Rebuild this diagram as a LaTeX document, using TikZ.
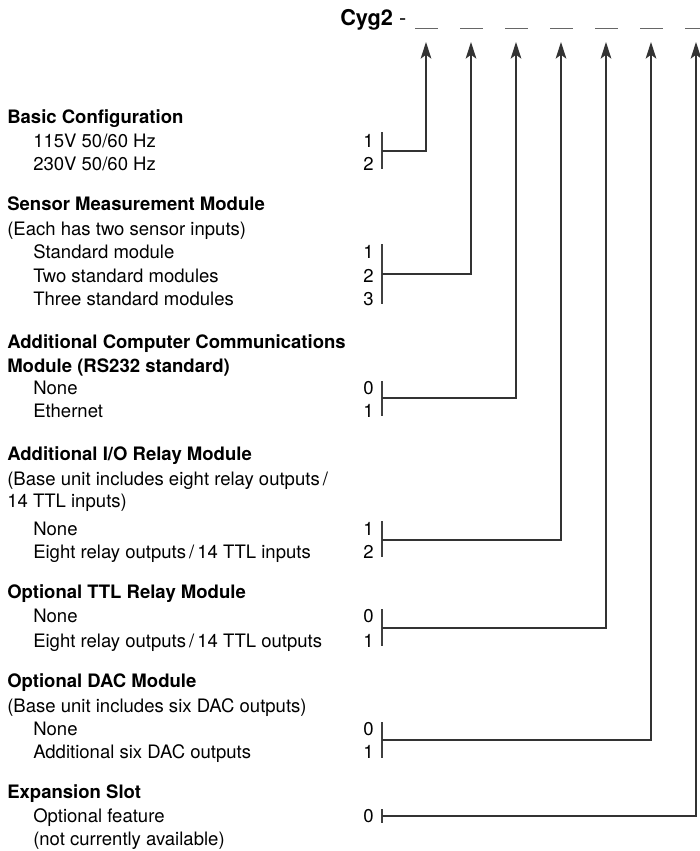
\documentclass[tikz,border=0pt]{standalone}
\usepackage{fontspec}
\setmainfont{TeX Gyre Heros}
\usepackage{xcolor}
\usepackage{tikz}
\usetikzlibrary{arrows.meta}

\newcommand{\bodysize}{\fontsize{13.9pt}{16pt}\selectfont}
\tikzset{
  head/.style={anchor=base west, inner sep=0pt, font=\bodysize\bfseries},
  item/.style={anchor=base west, inner sep=0pt, font=\bodysize},
  code/.style={anchor=base east, inner sep=0pt, font=\bodysize},
  brk/.style={draw=black!75, line width=0.9pt},
  conn/.style={draw=black!80, line width=0.9pt, -{Stealth[length=12.5pt,width=8pt,inset=3pt]}},
  blank/.style={draw=black!60, line width=0.7pt},
}

\begin{document}
\begin{tikzpicture}[x=0.75pt,y=-0.75pt]
\useasboundingbox (0,0) rectangle (700,851);

% part number with its blanks
\node[anchor=base west, inner sep=0pt, font=\fontsize{16.3pt}{18pt}\selectfont] (title) at (340,25) {\bfseries Cyg2\mdseries\ -};
\foreach \k in {1,...,7}{
  \draw[blank] ({415+45*(\k-1)},28) -- ({438+45*(\k-1)},28);
  \coordinate (tip\k) at ({426+45*(\k-1)},42);
}

% basic configuration
\node[head] (basic) at (7,123) {Basic Configuration};
\node[item] (basic1) at (33,147) {115V 50/60 Hz};
\node[item] (basic2) at (33,170) {230V 50/60 Hz};
\node[code] at (374,147) {1};
\node[code] at (374,170) {2};
\draw[brk] (382,132) -- (382,169);
\coordinate (j1) at (382,151);

% sensor measurement module
\node[head] (sensor) at (7,210) {Sensor Measurement Module};
\node[item] (sensornote) at (7,235) {(Each has two sensor inputs)};
\node[item] (sensor1) at (33,258) {Standard module};
\node[item] (sensor2) at (33,282) {Two standard modules};
\node[item] (sensor3) at (33,305) {Three standard modules};
\node[code] at (374,258) {1};
\node[code] at (374,282) {2};
\node[code] at (374,305) {3};
\draw[brk] (382,244) -- (382,304);
\coordinate (j2) at (382,274);

% computer communications module
\node[head] (comms) at (7,348) {Additional Computer Communications};
\node[head] (commsb) at (7,372) {Module (RS232 standard)};
\node[item] (comms0) at (33,394) {None};
\node[item] (comms1) at (33,417) {Ethernet};
\node[code] at (374,394) {0};
\node[code] at (374,417) {1};
\draw[brk] (382,381) -- (382,416);
\coordinate (j3) at (382,398);

% I/O relay module
\node[head] (relay) at (7,460) {Additional I/O Relay Module};
\node[item] (relaynote) at (7,485) {(Base unit includes eight relay outputs\,/};
\node[item] (relaynoteb) at (7,507) {14 TTL inputs)};
\node[item] (relay1) at (33,535) {None};
\node[item] (relay2) at (33,558) {Eight relay outputs\,/\,14 TTL inputs};
\node[code] at (374,535) {1};
\node[code] at (374,558) {2};
\draw[brk] (382,521) -- (382,557);
\coordinate (j4) at (382,540);

% TTL relay module
\node[head] (ttl) at (7,598) {Optional TTL Relay Module};
\node[item] (ttl0) at (33,622) {None};
\node[item] (ttl1) at (33,647) {Eight relay outputs\,/\,14 TTL outputs};
\node[code] at (374,622) {0};
\node[code] at (374,647) {1};
\draw[brk] (382,609) -- (382,646);
\coordinate (j5) at (382,628);

% DAC module
\node[head] (dac) at (7,687) {Optional DAC Module};
\node[item] (dacnote) at (7,712) {(Base unit includes six DAC outputs)};
\node[item] (dac0) at (33,735) {None};
\node[item] (dac1) at (33,758) {Additional six DAC outputs};
\node[code] at (374,735) {0};
\node[code] at (374,758) {1};
\draw[brk] (382,722) -- (382,758);
\coordinate (j6) at (382,740);

% expansion slot
\node[head] (slot) at (7,798) {Expansion Slot};
\node[item] (slot0) at (33,822) {Optional feature};
\node[item] (slotnote) at (33,845) {(not currently available)};
\node[code] at (374,822) {0};
\draw[brk] (382,809) -- (382,823);
\coordinate (j7) at (382,816);

% leaders up to the blanks
\foreach \k in {1,...,7}{
  \draw[conn] (j\k) -| (tip\k);
}
\end{tikzpicture}
\end{document}
